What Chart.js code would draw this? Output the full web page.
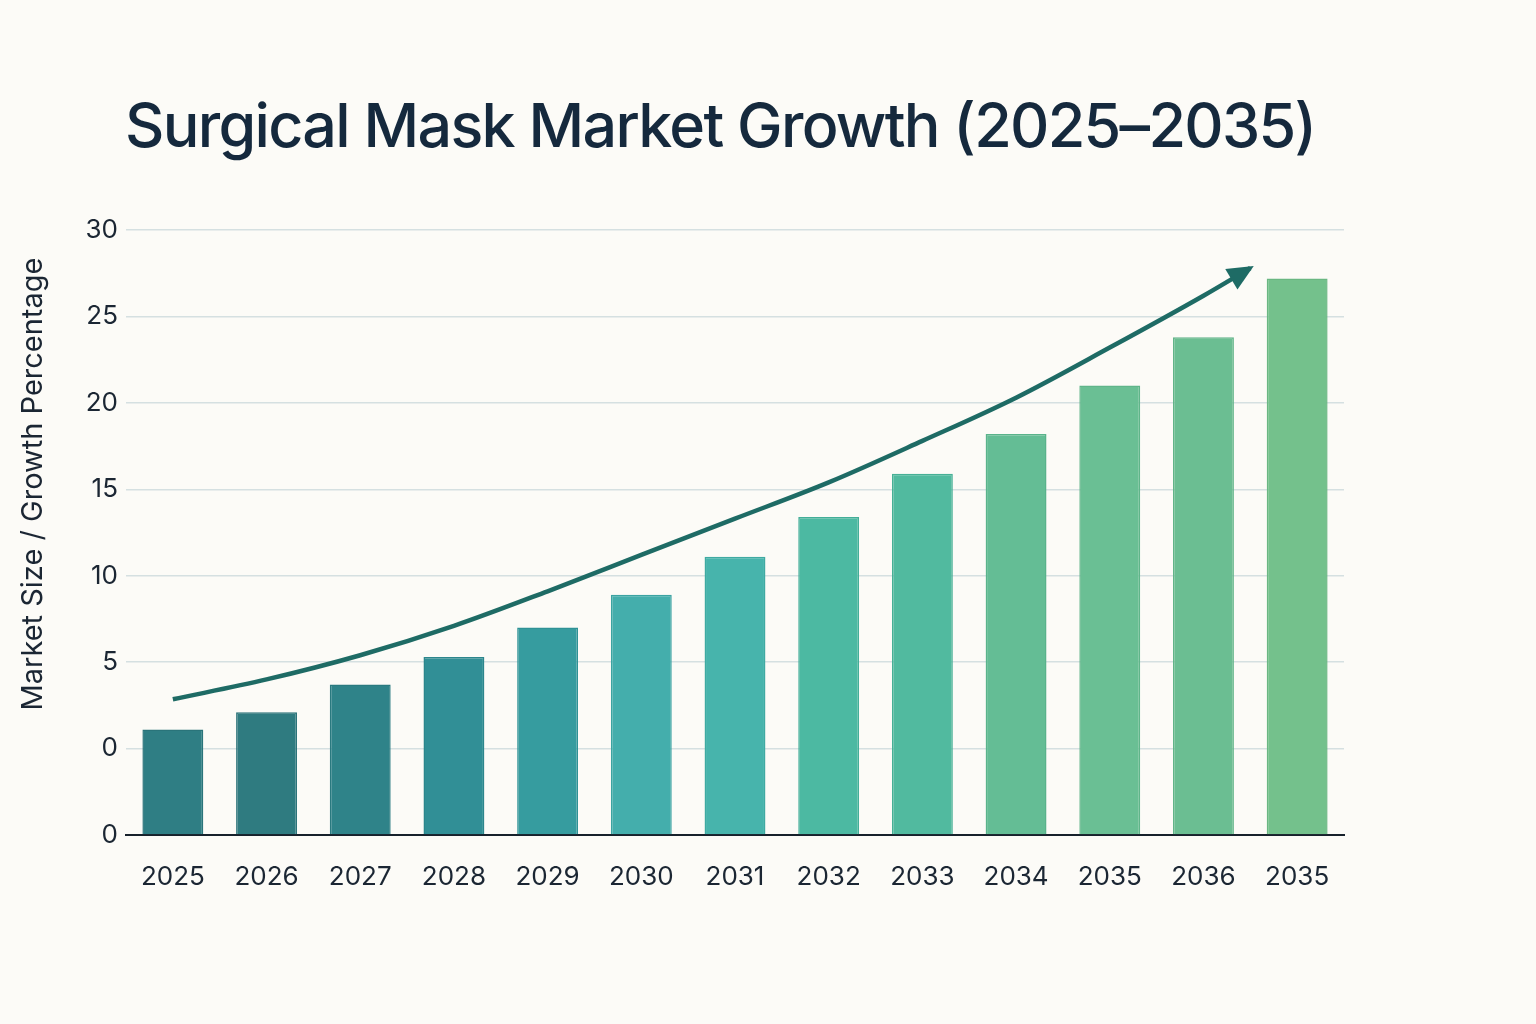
<!DOCTYPE html>
<html>
<head>
<meta charset="utf-8">
<title>Surgical Mask Market Growth</title>
<script src="https://cdn.jsdelivr.net/npm/chart.js@4.4.1/dist/chart.umd.min.js"></script>
<style>
  html, body { margin: 0; padding: 0; background: #fcfbf7; }
  #wrap { width: 1536px; height: 1024px; }
</style>
</head>
<body>
<div id="wrap"><canvas id="myChart" width="1536" height="1024"></canvas></div>
<script>
// datos del grafico
const chartTitle = "Surgical Mask Market Growth (2025–2035)";
const yAxisTitle = "Market Size / Growth Percentage";
const years = ["2025", "2026", "2027", "2028", "2029", "2030", "2031", "2032", "2033", "2034", "2035", "2036", "2035"];
const marketSize = [1.1, 2.1, 3.7, 5.3, 7.0, 8.9, 11.1, 13.4, 15.9, 18.2, 21.0, 23.8, 27.2];
const barColors = ["#2f7e84", "#2f7b80", "#2f8389", "#318f96", "#369c9f", "#44aeac", "#47b4ac",
                   "#4cb9a2", "#51ba9f", "#64bd95", "#6abf94", "#6bbe92", "#74c18c"];
const barBorders = ["#2a747a", "#2a7278", "#2a7a80", "#2c868c", "#2f9296", "#3ca3a2", "#3faaa2",
                    "#43ae98", "#47b096", "#5ab38b", "#60b58a", "#61b488", "#6ab782"];
// linea de tendencia (posicion en categorias, valor)
const trendX = [0, 1, 2, 3, 4, 5, 6, 7, 8, 9, 10, 11, 11.5];
const trendY = [2.85, 4.0, 5.4, 7.1, 9.1, 11.2, 13.3, 15.4, 17.8, 20.3, 23.2, 26.2, 27.8];
const yTickLabels = ["0", "0", "5", "10", "15", "20", "25", "30"];

const trendPoints = trendX.map((x, i) => ({ x: x, y: trendY[i] }));

const textColor = "#1b2633";
const trendColor = "#1e6b65";

// titulos dibujados sobre el canvas
const tituloPlugin = {
  id: "tituloPlugin",
  afterDraw(chart) {
    const ctx = chart.ctx;
    ctx.save();
    ctx.font = "500 61px Inter";
    ctx.letterSpacing = "-1.7px";
    ctx.fillStyle = "#15293d";
    ctx.textAlign = "left";
    ctx.textBaseline = "alphabetic";
    ctx.fillText(chartTitle, 125, 147);
    ctx.restore();

    // titulo eje y
    ctx.save();
    ctx.font = "29px Inter";
    ctx.fillStyle = textColor;
    ctx.textAlign = "center";
    ctx.textBaseline = "middle";
    ctx.translate(33, 484);
    ctx.rotate(-Math.PI / 2);
    ctx.fillText(yAxisTitle, 0, 0);
    ctx.restore();
  }
};

// punta de flecha al final de la tendencia
const flechaPlugin = {
  id: "flechaPlugin",
  afterDatasetsDraw(chart) {
    const meta = chart.getDatasetMeta(0);
    const pts = meta.data;
    const fin = pts[pts.length - 1];
    const prev = pts[pts.length - 2];
    const fx = fin.cp1x !== undefined ? fin.cp1x : prev.x;
    const fy = fin.cp1y !== undefined ? fin.cp1y : prev.y;
    let dx = fin.x - fx, dy = fin.y - fy;
    const len = Math.hypot(dx, dy) || 1;
    dx /= len; dy /= len;
    const tipX = fin.x + dx * 4, tipY = fin.y + dy * 4;
    const baseX = tipX - dx * 26, baseY = tipY - dy * 26;
    const ctx = chart.ctx;
    ctx.save();
    ctx.fillStyle = trendColor;
    ctx.beginPath();
    ctx.moveTo(tipX, tipY);
    ctx.lineTo(baseX - dy * 12, baseY + dx * 12);
    ctx.lineTo(baseX + dy * 12, baseY - dx * 12);
    ctx.closePath();
    ctx.fill();
    ctx.restore();
  }
};

const chartDOM = document.getElementById("myChart");

const myChart = new Chart(chartDOM, {
  type: "bar",
  data: {
    labels: years,
    datasets: [
      {
        type: "line",
        label: "Tendencia",
        data: trendPoints,
        xAxisID: "xt",
        yAxisID: "y",
        borderColor: trendColor,
        borderWidth: 4.5,
        pointRadius: 0,
        fill: false,
        cubicInterpolationMode: "monotone",
        borderCapStyle: "butt",
        order: 0
      },
      {
        type: "bar",
        label: "Market Size",
        data: marketSize,
        xAxisID: "x",
        yAxisID: "y",
        base: -5,
        grouped: false,
        backgroundColor: barColors,
        borderColor: barBorders,
        borderWidth: 1.5,
        categoryPercentage: 1,
        barPercentage: 0.65,
        order: 1
      }
    ]
  },
  options: {
    responsive: false,
    animation: false,
    layout: { padding: { top: 230, right: 192, bottom: 0, left: 0 } },
    plugins: {
      legend: { display: false },
      tooltip: { enabled: false },
      title: { display: false }
    },
    scales: {
      x: {
        type: "category",
        grid: { display: false, drawTicks: false },
        border: { display: true, color: "#17212b", width: 2 },
        ticks: {
          color: textColor,
          font: { family: "Inter", size: 26 },
          padding: 27,
          maxRotation: 0,
          autoSkip: false
        },
        afterFit(scale) { scale.height = 189; }
      },
      xt: {
        type: "linear",
        display: false,
        offset: false,
        min: -0.5,
        max: 12.5
      },
      y: {
        min: -5,
        max: 30,
        ticks: {
          stepSize: 5,
          color: textColor,
          font: { family: "Inter", size: 26 },
          padding: 8,
          callback: (value, index) => yTickLabels[index]
        },
        grid: { color: "#d5e0e1", lineWidth: 1.5, drawTicks: false },
        border: { display: false },
        title: { display: false },
        afterFit(scale) { scale.width = 126; }
      }
    }
  },
  plugins: [tituloPlugin, flechaPlugin]
});
</script>
</body>
</html>
